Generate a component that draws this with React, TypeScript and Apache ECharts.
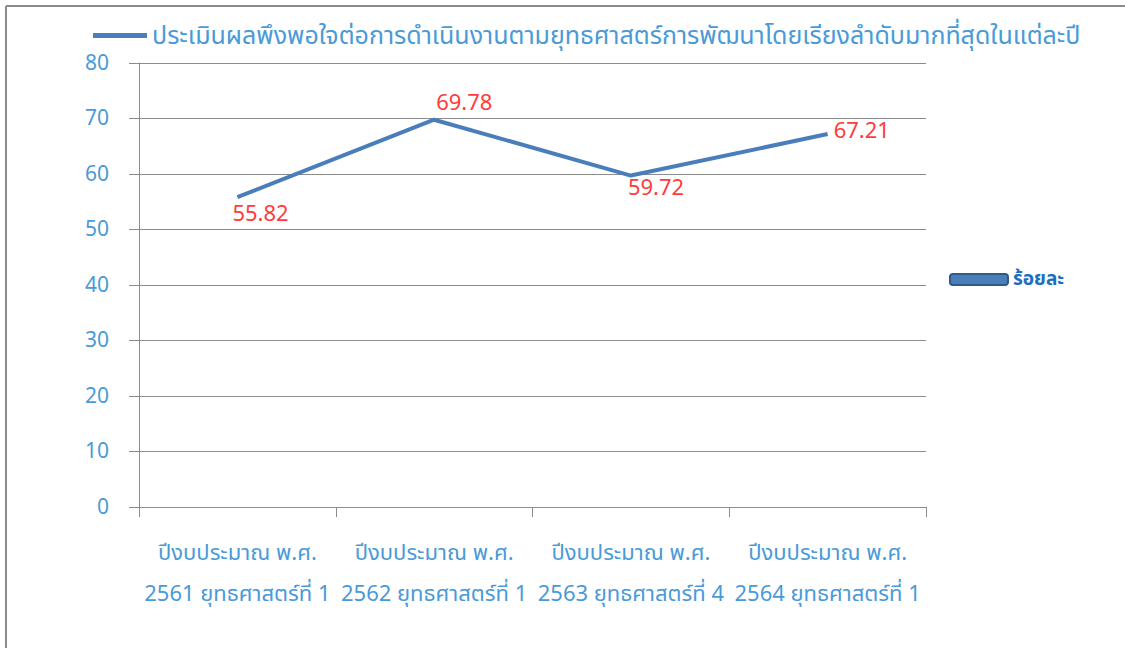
import React, { useEffect, useRef } from "react";
import * as echarts from "echarts";

const categories = [
  "ปีงบประมาณ พ.ศ.\n2561 ยุทธศาสตร์ที่ 1",
  "ปีงบประมาณ พ.ศ.\n2562 ยุทธศาสตร์ที่ 1",
  "ปีงบประมาณ พ.ศ.\n2563 ยุทธศาสตร์ที่ 4",
  "ปีงบประมาณ พ.ศ.\n2564 ยุทธศาสตร์ที่ 1",
];
const values = [55.82, 69.78, 59.72, 67.21];
const seriesName =
  "ประเมินผลพึงพอใจต่อการดำเนินงานตามยุทธศาสตร์การพัฒนาโดยเรียงลำดับมากที่สุดในแต่ละปี";
const legendName = "ร้อยละ";

// label placement (style only)
const labelOffsets: [number, number][] = [
  [-5, 17],
  [2, -16],
  [-3, 13],
  [6, -2],
];

const FONT = "'Noto Sans Thai', 'Noto Sans', 'DejaVu Sans', sans-serif";

export default function App() {
  const ref = useRef<HTMLDivElement>(null);
  useEffect(() => {
    if (!ref.current) return;
    const chart = echarts.init(ref.current, undefined, { renderer: "svg" });
    chart.setOption({
      animation: false,
      backgroundColor: "#ffffff",
      textStyle: { fontFamily: FONT },
      graphic: [
        { type: "line", shape: { x1: 6, y1: 6, x2: 1125, y2: 6 }, style: { stroke: "#8c8c8c", lineWidth: 2 } },
        { type: "line", shape: { x1: 6, y1: 6, x2: 6, y2: 648 }, style: { stroke: "#8c8c8c", lineWidth: 2 } },
      ],
      legend: [
        {
          data: [seriesName],
          left: 88,
          top: 18,
          itemWidth: 54,
          itemHeight: 5,
          icon: "rect",
          textStyle: { color: "#4a9ad8", fontSize: 25, fontFamily: FONT },
        },
        {
          data: [legendName],
          left: 944,
          top: 265,
          itemWidth: 58,
          itemHeight: 11,
          icon: "roundRect",
          textStyle: { color: "#1a6fc0", fontSize: 19, fontWeight: "bold", fontFamily: FONT },
        },
      ],
      grid: { left: 139, right: 199, top: 63, bottom: 141, containLabel: false },
      xAxis: {
        type: "category",
        data: categories,
        boundaryGap: true,
        axisLine: { lineStyle: { color: "#8c8c8c", width: 1 } },
        axisTick: { show: true, length: 10, lineStyle: { color: "#8c8c8c" } },
        axisLabel: {
          color: "#4a9ad8",
          fontSize: 22,
          margin: 26,
          lineHeight: 41,
          interval: 0,
          fontFamily: FONT,
        },
      },
      yAxis: {
        type: "value",
        min: 0,
        max: 80,
        interval: 10,
        axisLine: { show: true, lineStyle: { color: "#8c8c8c", width: 1 } },
        axisTick: { show: true, length: 10, lineStyle: { color: "#8c8c8c" } },
        splitLine: { lineStyle: { color: "#8c8c8c", width: 1 } },
        axisLabel: { color: "#4a9ad8", fontSize: 21, margin: 30, fontFamily: FONT },
      },
      series: [
        {
          name: seriesName,
          type: "line",
          data: values.map((v, i) => ({
            value: v,
            label: { offset: labelOffsets[i] },
          })),
          symbol: "circle",
          symbolSize: 0,
          showSymbol: true,
          lineStyle: { color: "#4a7ebb", width: 4 },
          itemStyle: { color: "#4a7ebb" },
          label: {
            show: true,
            position: "right",
            distance: 0,
            color: "#ff3b3b",
            fontSize: 22,
            formatter: (p: any) => Number(p.value).toFixed(2),
            fontFamily: FONT,
          },
        },
        {
          name: legendName,
          type: "line",
          data: [],
          symbol: "none",
          lineStyle: { color: "#4a7ebb", width: 4 },
          itemStyle: { color: "#4a7ebb", borderColor: "#2f5a8c", borderWidth: 3 },
        },
      ],
    });
    return () => chart.dispose();
  }, []);
  return (
    <div
      ref={ref}
      style={{ position: "fixed", left: 0, top: 0, width: 1125, height: 648 }}
    />
  );
}
